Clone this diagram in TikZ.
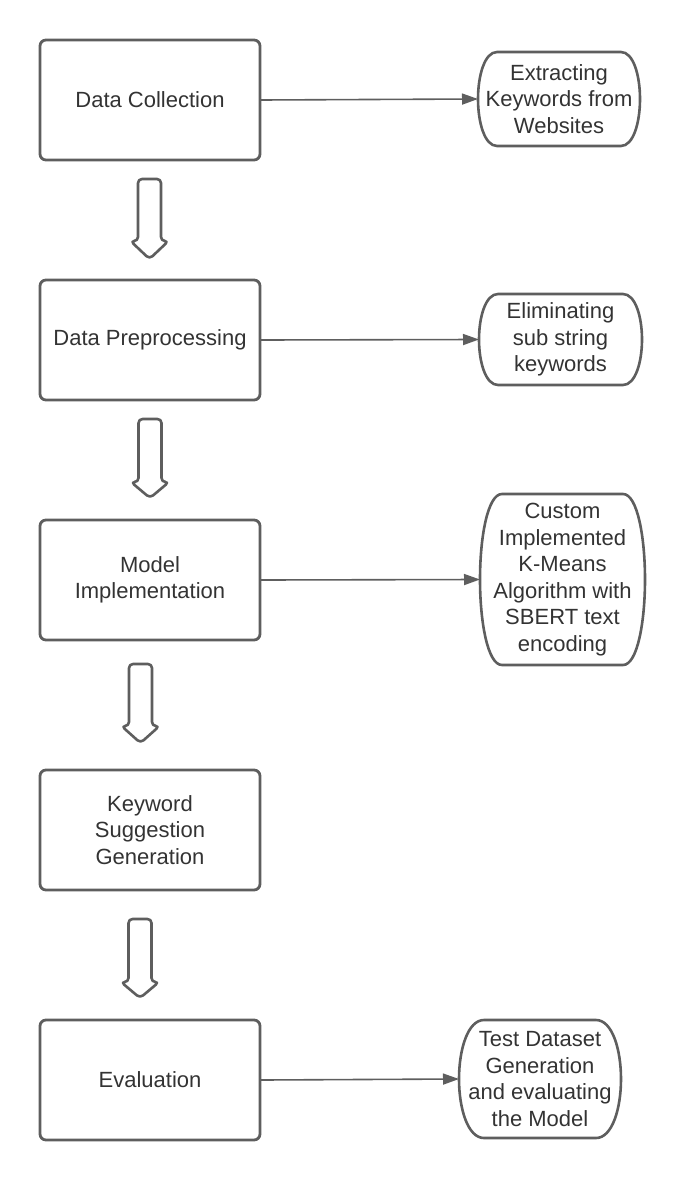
\documentclass[tikz,border=0pt]{standalone}
\usepackage{fontspec}
\setmainfont{Liberation Sans}
\usetikzlibrary{calc,arrows.meta}
\definecolor{edge}{HTML}{5E5E5E}
\definecolor{ink}{HTML}{333333}
\tikzset{
  box/.style={draw=edge, line width=2.8pt, rounded corners=6pt, minimum width=220pt, minimum height=120pt,
    inner sep=0pt, align=center, text=ink, font=\fontsize{22}{26.5}\selectfont},
  term/.style={inner sep=0pt, outer sep=0pt, align=center, text=ink, font=\fontsize{22}{26.5}\selectfont},
  termdraw/.style={draw=edge, line width=2.6pt},
  conn/.style={draw=edge, line width=1.6pt, -{Triangle[length=16pt,width=11pt]}, shorten <=-1pt},
  blockarrow/.style={draw=edge, line width=2.6pt, rounded corners=4pt, line join=round}
}
\newcommand\termoutline[2]{%
 \draw[termdraw] ([xshift=#2]#1.north west) -- ([xshift=-#2]#1.north east)
  .. controls ([xshift=-0.35*#2]#1.north east) and ($(#1.north east)!0.5!(#1.east)$) .. (#1.east)
  .. controls ($(#1.south east)!0.5!(#1.east)$) and ([xshift=-0.35*#2]#1.south east) .. ([xshift=-#2]#1.south east)
  -- ([xshift=#2]#1.south west)
  .. controls ([xshift=0.35*#2]#1.south west) and ($(#1.south west)!0.5!(#1.west)$) .. (#1.west)
  .. controls ($(#1.north west)!0.5!(#1.west)$) and ([xshift=0.35*#2]#1.north west) .. cycle;}
\newcommand\blockarrow[4]{% cx, top, headstart, tip
 \draw[blockarrow] (#1-11.5,#2) -- (#1+11.5,#2) -- (#1+11.5,#3) -- (#1+19,#3) -- (#1,#4) -- (#1-19,#3) -- (#1-11.5,#3) -- cycle;}
\begin{document}
\begin{tikzpicture}[x=1pt,y=-1pt]
\useasboundingbox (0,0) rectangle (680,1180);
% left boxes
\node[box] (b1) at (150,100) {Data Collection};
\node[box] (b2) at (150,340) {Data Preprocessing};
\node[box] (b3) at (150,580) {Model\\Implementation};
\node[box] (b4) at (150,830) {Keyword\\Suggestion\\Generation};
\node[box] (b5) at (150,1080) {Evaluation};
% right terminators
\node[term, minimum width=162pt, minimum height=94pt] (r1) at (559,99) {Extracting\\Keywords from\\Websites};
\node[term, minimum width=163pt, minimum height=91pt] (r2) at (560.5,339.5) {Eliminating\\sub string\\keywords};
\node[term, minimum width=165pt, minimum height=171pt] (r3) at (562.5,579.5) {Custom\\Implemented\\K-Means\\Algorithm with\\SBERT text\\encoding};
\node[term, minimum width=162pt, minimum height=118pt] (r4) at (540,1079) {Test Dataset\\Generation\\and evaluating\\the Model};
\termoutline{r1}{19pt}
\termoutline{r2}{19pt}
\termoutline{r3}{22pt}
\termoutline{r4}{25pt}
% connectors
\draw[conn] (b1.east) -- (r1.west);
\draw[conn] (b2.east) -- (r2.west);
\draw[conn] (b3.east) -- (r3.west);
\draw[conn] (b5.east) -- (r4.west);
% block arrows
\blockarrow{149.5}{179}{241}{259}
\blockarrow{150}{419}{482}{498}
\blockarrow{140.5}{664}{726}{743}
\blockarrow{140}{919}{982}{998}
\end{tikzpicture}
\end{document}
